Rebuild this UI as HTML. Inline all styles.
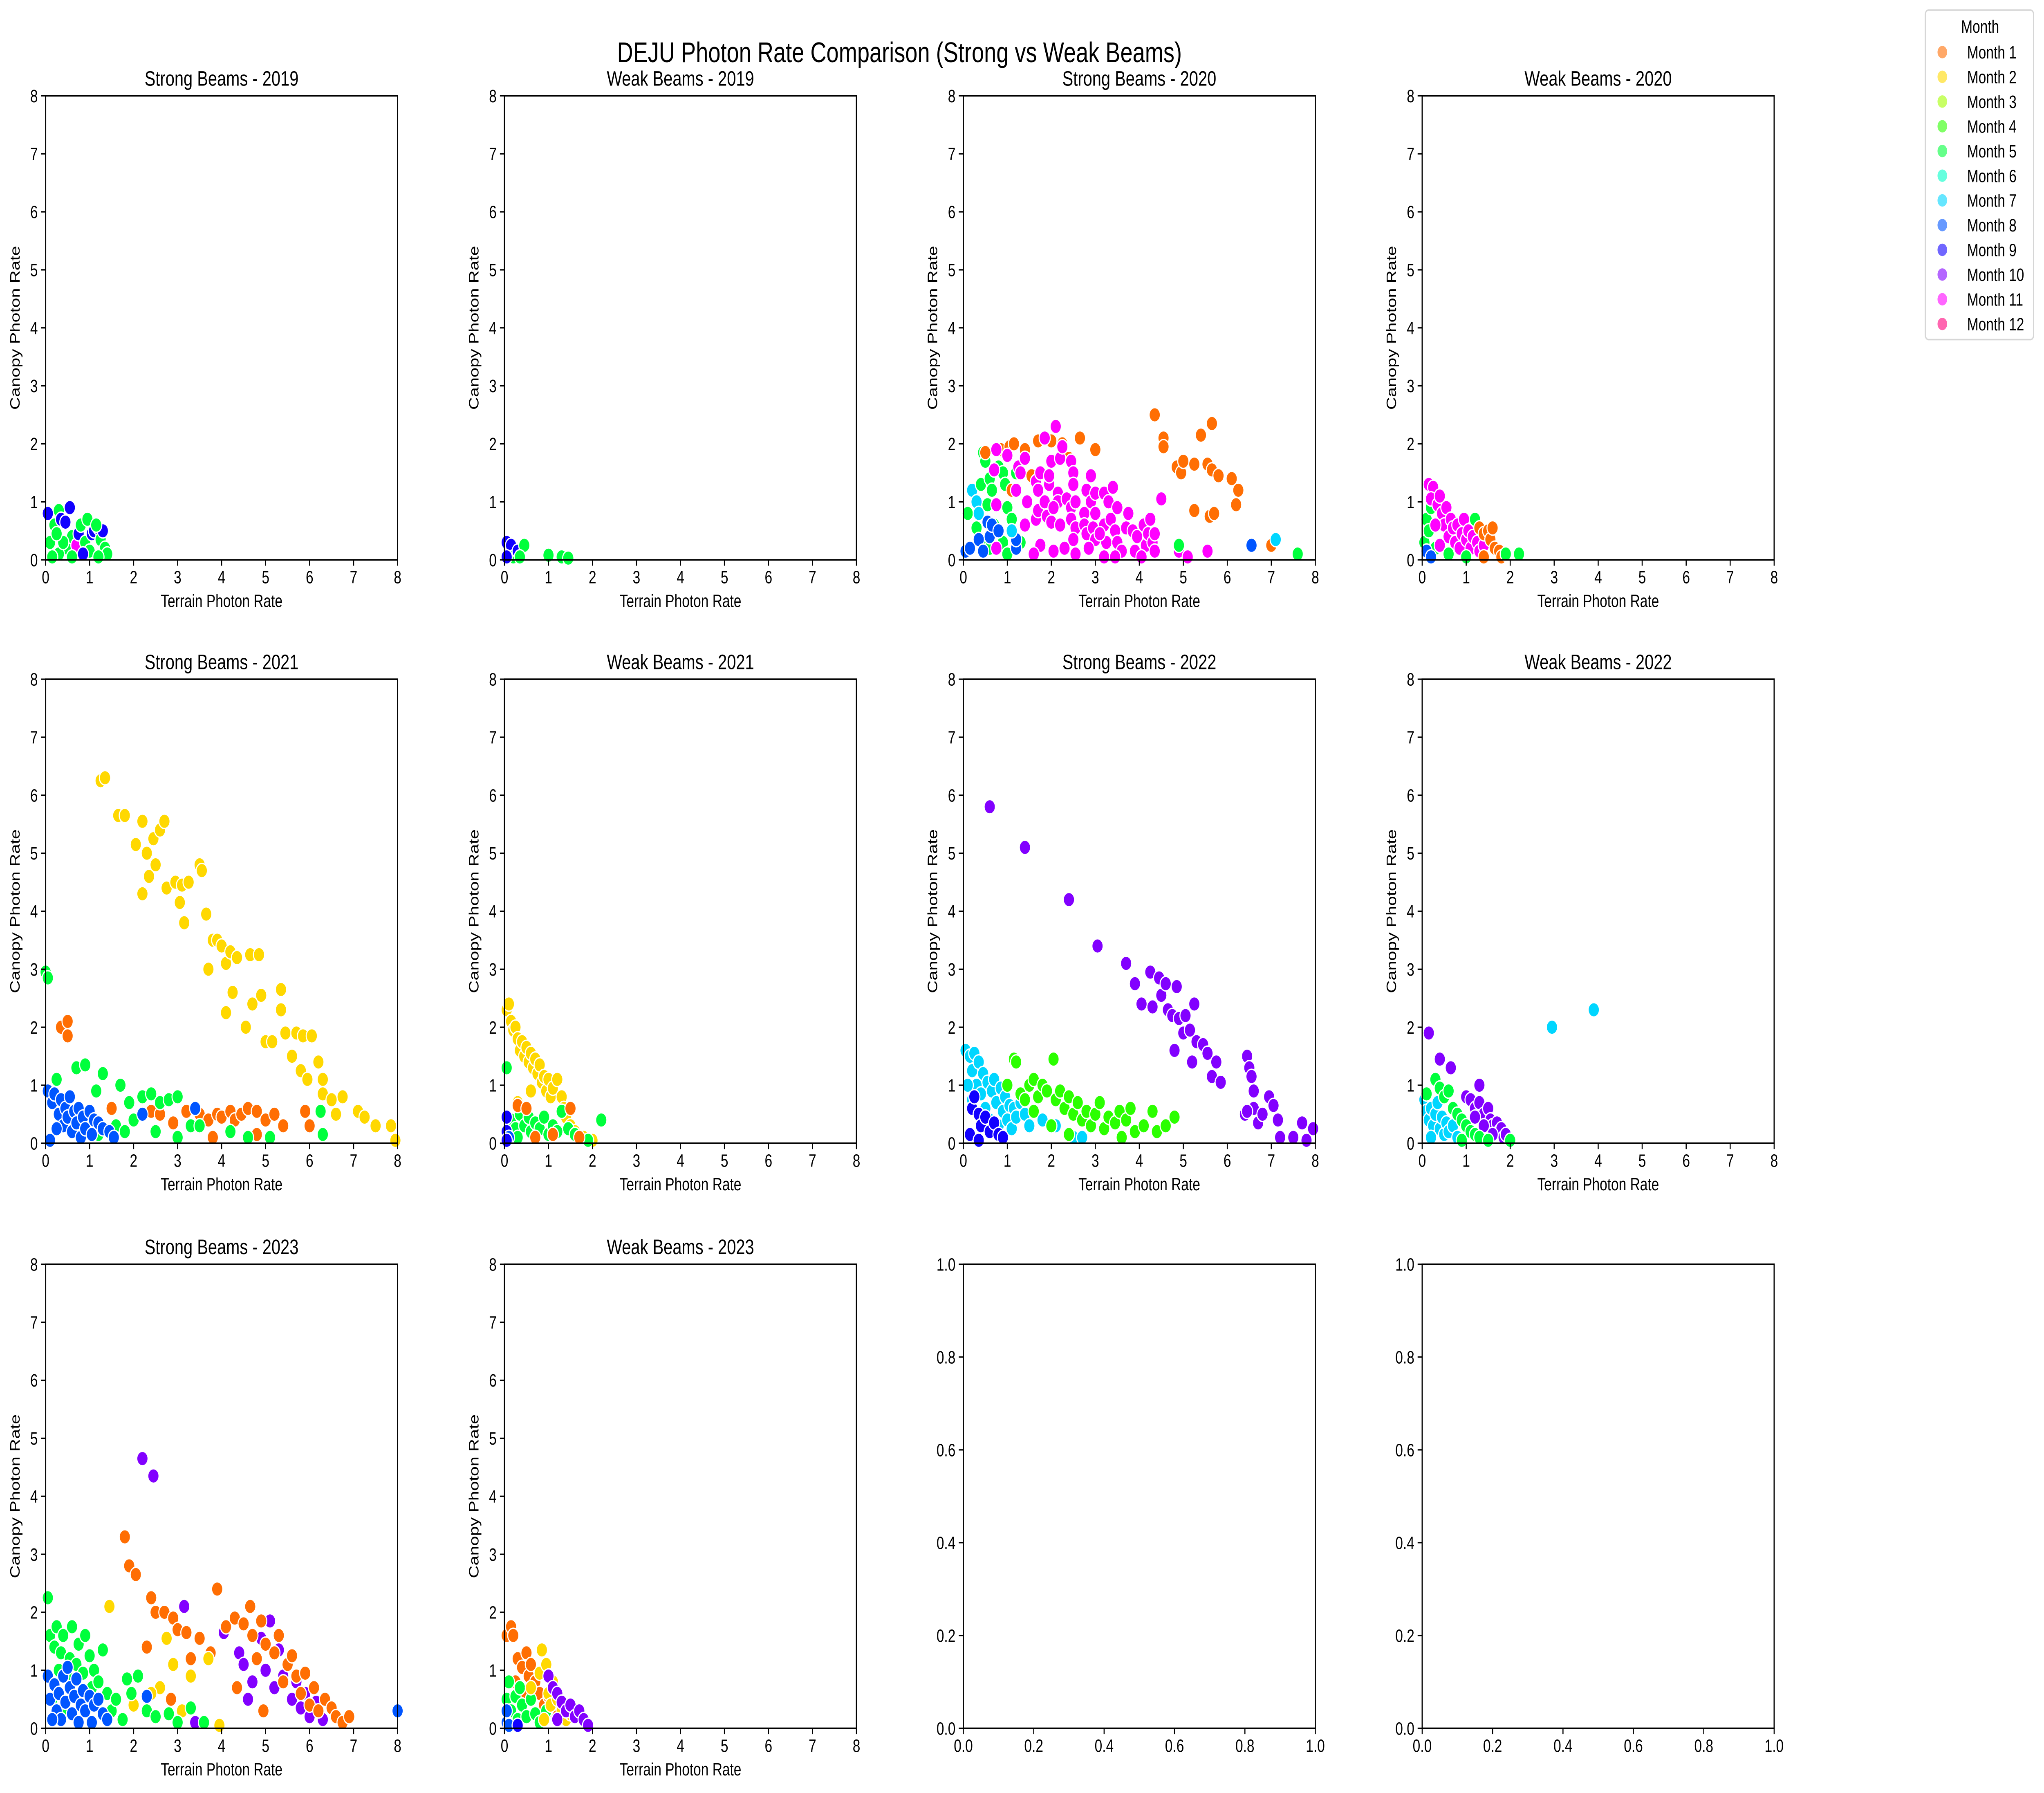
<!DOCTYPE html>
<html><head><meta charset="utf-8"><style>
html,body{margin:0;padding:0;background:#fff;width:100%;height:100%;overflow:hidden}
svg{display:block;width:100vw;height:100vh}
text{font-family:"Liberation Sans","DejaVu Sans",sans-serif;fill:#000}
</style></head><body>
<svg id="fig" xmlns="http://www.w3.org/2000/svg" viewBox="0 0 1568 1066.5" preserveAspectRatio="none">
<rect width="1568" height="1066.5" fill="#fff"/>
<text x="690" y="37" font-size="17" text-anchor="middle">DEJU Photon Rate Comparison (Strong vs Weak Beams)</text>
<g id="legend"></g>
</svg>
<script>
const monthColors=["#ff6e03","#ffd800","#a3ff00","#2bff00","#00ff3c","#00ffc8","#00d6ff","#0055ff","#1100ff","#8200ff","#ff00ff","#ff007c"];
const monthLabels=["Month 1","Month 2","Month 3","Month 4","Month 5","Month 6","Month 7","Month 8","Month 9","Month 10","Month 11","Month 12"];
const panelTitles=["Strong Beams - 2019","Weak Beams - 2019","Strong Beams - 2020","Weak Beams - 2020","Strong Beams - 2021","Weak Beams - 2021","Strong Beams - 2022","Weak Beams - 2022","Strong Beams - 2023","Weak Beams - 2023"];
const ticks8=[0,1,2,3,4,5,6,7,8];
const ticks1=["0.0","0.2","0.4","0.6","0.8","1.0"];
// points: [terrain, canopy, month]
const s2019=[[0.05,0.8,9],[0.1,0.3,5],[0.2,0.6,5],[0.3,0.85,5],[0.35,0.7,9],[0.45,0.65,9],[0.55,0.9,9],[0.5,0.2,5],[0.3,0.1,5],[0.6,0.4,5],[0.7,0.25,11],[0.75,0.45,9],[0.8,0.6,5],[0.9,0.3,5],[0.95,0.7,5],[1.0,0.15,5],[1.05,0.45,9],[1.1,0.5,9],[1.2,0.55,9],[1.25,0.35,5],[1.3,0.5,9],[1.35,0.2,5],[1.4,0.1,5],[1.2,0.05,5],[0.15,0.05,5],[0.6,0.05,5],[0.85,0.1,9],[0.4,0.3,5],[1.15,0.6,5],[0.25,0.45,5]];
const w2019=[[0.05,0.3,9],[0.1,0.1,11],[0.15,0.25,9],[0.2,0.05,5],[0.3,0.15,9],[0.45,0.25,5],[0.05,0.05,9],[1.0,0.08,5],[1.3,0.05,5],[1.45,0.03,5],[0.35,0.05,5]];
const s2020=[[0.1,0.8,5],[0.2,1.2,7],[0.3,1.0,7],[0.35,0.8,7],[0.4,1.3,5],[0.45,1.85,5],[0.5,1.7,5],[0.55,0.95,5],[0.6,1.4,5],[0.65,1.2,5],[0.7,0.6,5],[0.8,1.6,5],[0.9,1.5,5],[0.95,1.3,5],[1.0,0.9,5],[1.1,0.7,5],[1.2,1.5,5],[1.3,0.3,5],[0.3,0.55,5],[0.5,0.3,5],[0.6,0.2,5],[0.9,0.3,5],[1.0,0.1,5],
[0.05,0.15,8],[0.15,0.2,8],[0.35,0.35,8],[0.45,0.15,8],[0.55,0.65,8],[0.6,0.4,8],[0.65,0.6,8],[0.8,0.5,8],[1.2,0.2,8],[1.2,0.35,8],[1.1,0.5,7],
[0.5,1.85,1],[0.85,1.9,1],[1.05,1.95,1],[1.15,2.0,1],[1.4,1.9,1],[1.55,1.45,1],[1.7,2.05,1],[2.0,2.05,1],[2.25,2.0,1],[2.4,1.75,1],[2.65,2.1,1],[3.0,1.9,1],[1.1,1.2,1],[2.2,0.6,1],[4.35,2.5,1],[4.55,2.1,1],[4.55,1.95,1],[4.85,1.6,1],[4.95,1.5,1],[5.0,1.7,1],[5.25,1.65,1],[5.4,2.15,1],[5.55,1.65,1],[5.65,2.35,1],[5.65,1.55,1],[5.8,1.45,1],[6.1,1.4,1],[6.25,1.2,1],[6.2,0.95,1],[5.25,0.85,1],[5.6,0.75,1],[5.7,0.8,1],[7.0,0.25,1],
[0.75,1.9,11],[1.0,1.8,11],[0.7,1.55,11],[0.75,0.95,11],[1.2,1.2,11],[1.25,1.6,11],[1.3,1.5,11],[1.4,1.75,11],[1.45,1.0,11],[1.4,0.6,11],[1.65,1.35,11],[1.65,0.7,11],[1.7,1.2,11],[1.7,0.85,11],[1.75,1.5,11],[1.75,0.25,11],[1.85,2.1,11],[1.85,1.0,11],[1.9,0.75,11],[1.95,1.3,11],[1.95,1.45,11],[2.0,1.7,11],[2.0,0.65,11],[2.1,2.3,11],[2.15,1.15,11],[2.15,1.0,11],[2.2,0.6,11],[2.2,1.75,11],[2.25,1.95,11],[2.35,1.05,11],[2.45,1.7,11],[2.45,0.9,11],[2.45,0.7,11],[2.5,1.5,11],[2.5,1.3,11],[2.55,0.55,11],[2.55,1.0,11],[2.5,0.35,11],[2.75,0.8,11],[2.8,1.2,11],[2.75,0.6,11],[2.8,0.45,11],[2.9,1.45,11],[2.9,1.0,11],[2.95,0.55,11],[3.0,0.35,11],[3.0,0.8,11],[3.0,1.15,11],[3.2,1.15,11],[3.2,0.6,11],[3.25,0.3,11],[3.3,1.0,11],[3.35,0.7,11],[3.4,1.25,11],[3.45,0.5,11],[3.5,0.9,11],[3.5,0.3,11],[3.6,0.15,11],[3.7,0.55,11],[3.75,0.8,11],[3.85,0.5,11],[3.9,0.15,11],[3.95,0.4,11],[4.1,0.6,11],[4.15,0.25,11],[4.2,0.45,11],[4.25,0.7,11],[4.3,0.3,11],[4.35,0.45,11],[4.35,0.15,11],[4.5,1.05,11],[4.9,0.15,11],[5.1,0.05,11],[5.55,0.15,11],[1.6,0.1,11],[2.05,0.15,11],[2.3,0.2,11],[2.55,0.1,11],[2.85,0.2,11],[3.2,0.05,11],[3.45,0.05,11],[4.05,0.05,11],[0.75,0.2,11],[2.05,0.9,11],[3.1,0.45,11],
[4.9,0.25,5],[6.55,0.25,8],[7.1,0.35,7],[7.6,0.1,5]];
const w2020=[[0.05,0.3,5],[0.1,0.7,5],[0.15,0.5,5],[0.2,0.9,5],[0.3,0.2,5],[0.1,0.15,8],[0.2,0.05,8],[0.15,1.3,11],[0.25,1.25,11],[0.2,1.05,11],[0.35,0.95,11],[0.4,1.1,11],[0.45,0.8,11],[0.5,0.6,11],[0.55,0.9,11],[0.6,0.4,11],[0.65,0.7,11],[0.7,0.55,11],[0.75,0.3,11],[0.8,0.6,11],[0.85,0.2,11],[0.9,0.45,11],[0.95,0.7,11],[1.0,0.35,11],[1.05,0.5,11],[1.1,0.2,11],[1.15,0.4,11],[1.25,0.3,11],[1.3,0.15,11],[1.4,0.25,11],[0.4,0.25,11],[0.3,0.6,11],[1.2,0.7,5],[1.3,0.55,1],[1.4,0.45,1],[1.5,0.5,1],[1.55,0.35,1],[1.6,0.55,1],[1.65,0.2,1],[1.75,0.15,1],[1.8,0.05,1],[1.4,0.05,1],[1.9,0.1,5],[2.2,0.1,5],[0.6,0.1,5],[1.0,0.05,5]];
const s2021=[[1.25,6.25,2],[1.35,6.3,2],[1.65,5.65,2],[1.8,5.65,2],[2.05,5.15,2],[2.2,5.55,2],[2.3,5.0,2],[2.35,4.6,2],[2.45,5.25,2],[2.5,4.8,2],[2.6,5.4,2],[2.7,5.55,2],[2.2,4.3,2],[2.75,4.4,2],[2.95,4.5,2],[3.05,4.15,2],[3.1,4.45,2],[3.15,3.8,2],[3.25,4.5,2],[3.5,4.8,2],[3.55,4.7,2],[3.65,3.95,2],[3.8,3.5,2],[3.7,3.0,2],[3.9,3.5,2],[4.0,3.4,2],[4.1,3.1,2],[4.1,2.25,2],[4.2,3.3,2],[4.25,2.6,2],[4.35,3.2,2],[4.55,2.0,2],[4.65,3.25,2],[4.7,2.4,2],[4.85,3.25,2],[4.9,2.55,2],[5.0,1.75,2],[5.15,1.75,2],[5.35,2.65,2],[5.35,2.3,2],[5.45,1.9,2],[5.6,1.5,2],[5.7,1.9,2],[5.8,1.25,2],[5.85,1.85,2],[5.95,1.1,2],[6.05,1.85,2],[6.2,1.4,2],[6.3,1.1,2],[6.3,0.85,2],[6.5,0.75,2],[6.75,0.8,2],[7.1,0.55,2],[7.25,0.45,2],[7.5,0.3,2],[7.85,0.3,2],[7.95,0.05,2],[6.6,0.5,2],
[0.35,2.0,1],[0.5,2.1,1],[0.5,1.85,1],[1.05,0.4,1],[1.5,0.6,1],[2.4,0.55,1],[2.6,0.5,1],[2.9,0.35,1],[3.2,0.55,1],[3.5,0.5,1],[3.7,0.4,1],[3.9,0.5,1],[4.0,0.45,1],[4.2,0.55,1],[4.3,0.4,1],[4.45,0.5,1],[4.6,0.6,1],[4.8,0.55,1],[5.0,0.4,1],[5.2,0.5,1],[5.4,0.3,1],[5.9,0.55,1],[6.0,0.3,1],[3.8,0.1,1],[4.8,0.15,1],
[0.0,2.95,5],[0.05,2.85,5],[0.25,1.1,5],[0.7,1.3,5],[0.9,1.35,5],[1.3,1.2,5],[1.15,0.9,5],[1.7,1.0,5],[1.9,0.7,5],[2.2,0.8,5],[2.4,0.85,5],[2.6,0.7,5],[2.8,0.75,5],[3.0,0.8,5],[3.3,0.3,5],[1.6,0.3,5],[1.8,0.2,5],[2.0,0.4,5],[2.5,0.2,5],[3.0,0.1,5],[3.5,0.3,5],[4.2,0.2,5],[4.6,0.1,5],[5.1,0.1,5],[6.25,0.55,5],[6.3,0.15,5],[1.2,0.15,5],[0.9,0.5,5],
[0.05,0.9,8],[0.15,0.7,8],[0.2,0.85,8],[0.3,0.5,8],[0.35,0.75,8],[0.4,0.3,8],[0.45,0.6,8],[0.5,0.45,8],[0.55,0.8,8],[0.6,0.2,8],[0.65,0.55,8],[0.7,0.35,8],[0.75,0.6,8],[0.8,0.1,8],[0.85,0.45,8],[0.9,0.25,8],[1.0,0.55,8],[1.05,0.15,8],[1.1,0.4,8],[1.2,0.35,8],[1.3,0.25,8],[1.45,0.2,8],[1.55,0.1,8],[0.25,0.25,8],[2.2,0.5,8],[3.4,0.6,8],[0.1,0.05,8]];
const w2021=[[0.05,2.3,2],[0.1,2.4,2],[0.15,2.1,2],[0.2,1.95,2],[0.25,2.0,2],[0.3,1.8,2],[0.35,1.6,2],[0.4,1.75,2],[0.45,1.5,2],[0.5,1.65,2],[0.55,1.4,2],[0.6,1.55,2],[0.65,1.3,2],[0.7,1.45,2],[0.75,1.2,2],[0.8,1.35,2],[0.85,1.05,2],[0.9,1.15,2],[0.95,0.9,2],[1.0,1.1,2],[1.05,0.8,2],[1.1,0.95,2],[1.2,1.1,2],[1.3,0.8,2],[1.35,0.6,2],[1.4,0.45,2],[1.5,0.3,2],[1.6,0.2,2],[1.8,0.1,2],[2.0,0.05,2],[0.3,0.7,2],[0.6,0.9,2],
[0.05,1.3,5],[0.15,0.4,5],[0.25,0.25,5],[0.35,0.5,5],[0.45,0.3,5],[0.55,0.45,5],[0.6,0.2,5],[0.7,0.35,5],[0.8,0.25,5],[0.9,0.45,5],[1.0,0.15,5],[1.1,0.3,5],[1.2,0.2,5],[1.3,0.55,5],[1.45,0.25,5],[1.6,0.15,5],[2.2,0.4,5],[0.3,0.1,5],[1.9,0.05,5],
[0.3,0.65,1],[0.5,0.6,1],[0.7,0.1,1],[1.1,0.15,1],[1.5,0.6,1],[1.7,0.1,1],[0.05,0.45,9],[0.05,0.2,9],[0.1,0.1,8],[0.05,0.05,9]];
const s2022=[[0.6,5.8,10],[1.4,5.1,10],[2.4,4.2,10],[3.05,3.4,10],[3.7,3.1,10],[3.9,2.75,10],[4.05,2.4,10],[4.25,2.95,10],[4.3,2.35,10],[4.45,2.85,10],[4.5,2.55,10],[4.6,2.75,10],[4.65,2.3,10],[4.75,2.2,10],[4.85,2.7,10],[4.9,2.15,10],[5.0,1.9,10],[5.05,2.2,10],[5.15,1.95,10],[5.25,2.4,10],[5.2,1.4,10],[5.3,1.75,10],[5.45,1.7,10],[5.55,1.55,10],[5.65,1.15,10],[5.75,1.4,10],[5.85,1.05,10],[4.8,1.6,10],[6.45,1.5,10],[6.5,1.3,10],[6.4,0.5,10],[6.55,1.15,10],[6.6,0.9,10],[6.7,0.35,10],[6.6,0.6,10],[6.8,0.5,10],[6.95,0.8,10],[7.05,0.65,10],[7.15,0.4,10],[7.2,0.1,10],[7.5,0.1,10],[7.7,0.35,10],[7.8,0.05,10],[7.95,0.25,10],[6.45,0.55,10],
[0.05,1.6,7],[0.15,1.5,7],[0.2,1.25,7],[0.25,1.55,7],[0.3,1.0,7],[0.35,1.4,7],[0.4,0.85,7],[0.45,1.2,7],[0.5,0.6,7],[0.55,1.05,7],[0.6,0.4,7],[0.65,0.9,7],[0.7,1.1,7],[0.75,0.7,7],[0.8,0.3,7],[0.85,0.95,7],[0.9,0.55,7],[0.95,0.8,7],[1.0,0.4,7],[1.05,0.65,7],[1.1,0.25,7],[1.15,0.6,7],[1.2,0.45,7],[1.3,0.7,7],[1.4,0.5,7],[1.5,0.3,7],[0.2,0.75,7],[0.1,1.0,7],[1.8,0.4,7],[2.1,0.3,7],[2.5,0.1,7],[2.7,0.1,7],
[0.15,0.15,9],[0.2,0.6,9],[0.25,0.8,9],[0.35,0.5,9],[0.4,0.3,9],[0.5,0.45,9],[0.6,0.2,9],[0.7,0.35,9],[0.8,0.15,9],[0.9,0.1,9],[0.35,0.05,9],
[1.0,1.0,4],[1.15,1.45,4],[1.2,1.4,4],[1.3,0.85,4],[1.4,0.75,4],[1.5,1.0,4],[1.6,1.1,4],[1.7,0.8,4],[1.8,1.0,4],[1.9,0.9,4],[2.05,1.45,4],[2.1,0.75,4],[2.2,0.9,4],[2.3,0.6,4],[2.4,0.8,4],[2.5,0.5,4],[2.6,0.7,4],[2.7,0.4,4],[2.8,0.55,4],[2.9,0.3,4],[3.0,0.5,4],[3.1,0.7,4],[3.2,0.25,4],[3.3,0.45,4],[3.45,0.35,4],[3.55,0.55,4],[3.7,0.4,4],[3.8,0.6,4],[3.9,0.2,4],[4.1,0.3,4],[4.3,0.55,4],[4.4,0.2,4],[4.6,0.3,4],[4.8,0.45,4],[2.0,0.3,4],[1.6,0.55,4],[3.6,0.1,4],[2.4,0.15,4]];
const w2022=[[0.15,1.9,10],[0.4,1.45,10],[0.65,1.3,10],[1.3,1.0,10],[1.0,0.8,10],[1.1,0.75,10],[1.2,0.6,10],[1.3,0.7,10],[1.4,0.5,10],[1.5,0.6,10],[1.55,0.4,10],[1.6,0.3,10],[1.7,0.35,10],[1.75,0.2,10],[1.8,0.25,10],[1.85,0.1,10],[1.9,0.15,10],[1.4,0.3,10],[1.6,0.15,10],[1.2,0.45,10],
[0.05,0.75,7],[0.1,0.55,7],[0.15,0.4,7],[0.2,0.6,7],[0.25,0.3,7],[0.3,0.5,7],[0.35,0.7,7],[0.4,0.25,7],[0.45,0.45,7],[0.5,0.15,7],[0.55,0.35,7],[0.6,0.2,7],[0.7,0.3,7],[0.8,0.1,7],[0.2,0.1,7],[2.95,2.0,7],[3.9,2.3,7],
[0.1,0.85,5],[0.3,1.1,5],[0.4,0.95,5],[0.5,0.8,5],[0.6,0.9,5],[0.7,0.6,5],[0.8,0.5,5],[0.9,0.4,5],[1.0,0.3,5],[1.1,0.2,5],[1.2,0.15,5],[1.3,0.1,5],[1.5,0.05,5],[2.0,0.05,5],[0.9,0.05,5]];
const s2023=[[2.2,4.65,10],[2.45,4.35,10],[3.15,2.1,10],[4.05,1.65,10],[4.4,1.3,10],[4.5,1.1,10],[4.7,0.8,10],[4.9,1.55,10],[5.0,1.0,10],[5.1,1.85,10],[5.2,0.7,10],[5.3,1.35,10],[5.4,0.9,10],[5.5,1.1,10],[5.6,0.5,10],[5.7,0.8,10],[5.8,0.35,10],[5.9,0.6,10],[6.0,0.2,10],[6.15,0.45,10],[6.3,0.15,10],[4.6,0.5,10],[3.4,0.1,10],
[1.8,3.3,1],[1.9,2.8,1],[2.05,2.65,1],[2.4,2.25,1],[2.5,2.0,1],[2.7,2.0,1],[2.9,1.9,1],[3.0,1.7,1],[3.2,1.65,1],[3.5,1.55,1],[3.75,1.3,1],[3.9,2.4,1],[4.1,1.75,1],[4.3,1.9,1],[4.5,1.8,1],[4.65,2.1,1],[4.7,1.6,1],[4.8,1.2,1],[4.9,1.85,1],[5.0,1.45,1],[5.2,1.3,1],[5.3,1.6,1],[5.4,0.8,1],[5.5,1.1,1],[5.6,1.25,1],[5.7,0.9,1],[5.8,0.6,1],[5.9,0.95,1],[6.0,0.4,1],[6.1,0.7,1],[6.2,0.3,1],[6.35,0.5,1],[6.5,0.35,1],[6.6,0.2,1],[6.75,0.1,1],[6.9,0.2,1],[3.3,1.2,1],[2.85,0.5,1],[4.35,0.7,1],[4.95,0.3,1],[2.3,1.4,1],
[1.45,2.1,2],[2.6,0.7,2],[2.75,1.55,2],[2.9,1.1,2],[3.1,0.3,2],[3.3,0.9,2],[3.7,1.2,2],[3.95,0.05,2],[2.4,0.6,2],[2.0,0.4,2],
[0.05,2.25,5],[0.1,1.6,5],[0.2,1.4,5],[0.25,1.75,5],[0.3,1.0,5],[0.35,1.3,5],[0.4,1.6,5],[0.5,0.9,5],[0.55,1.2,5],[0.6,1.75,5],[0.7,1.1,5],[0.75,1.45,5],[0.85,0.95,5],[0.9,1.6,5],[1.0,1.25,5],[1.05,0.7,5],[1.1,1.0,5],[1.2,0.8,5],[1.3,1.35,5],[1.4,0.6,5],[1.5,0.3,5],[1.6,0.5,5],[1.75,0.15,5],[1.85,0.85,5],[1.95,0.6,5],[2.1,0.9,5],[2.3,0.3,5],[2.5,0.2,5],[2.8,0.25,5],[3.0,0.1,5],[3.3,0.35,5],[3.6,0.1,5],[0.15,0.5,5],[0.5,0.3,5],
[0.05,0.9,8],[0.1,0.5,8],[0.2,0.75,8],[0.25,0.3,8],[0.3,0.6,8],[0.35,0.15,8],[0.4,0.9,8],[0.45,0.45,8],[0.5,1.05,8],[0.55,0.7,8],[0.6,0.25,8],[0.65,0.55,8],[0.7,0.85,8],[0.75,0.1,8],[0.8,0.4,8],[0.85,0.65,8],[0.9,0.3,8],[1.0,0.55,8],[1.05,0.1,8],[1.1,0.4,8],[1.2,0.5,8],[1.3,0.25,8],[1.4,0.15,8],[0.15,0.15,8],[8.0,0.3,8],[2.3,0.55,8]];
const w2023=[[0.05,1.6,1],[0.15,1.75,1],[0.2,1.6,1],[0.3,1.2,1],[0.4,1.05,1],[0.5,1.3,1],[0.55,0.9,1],[0.6,1.1,1],[0.7,0.8,1],[0.8,0.6,1],[0.9,0.4,1],[1.0,0.55,1],[1.1,0.3,1],[1.2,0.2,1],[0.45,0.6,1],[0.25,0.8,1],
[0.05,0.5,5],[0.1,0.8,5],[0.15,0.3,5],[0.25,0.55,5],[0.3,0.15,5],[0.4,0.4,5],[0.5,0.2,5],[0.6,0.5,5],[0.7,0.25,5],[0.8,0.1,5],[0.95,0.3,5],[0.35,0.7,5],
[0.6,0.7,2],[0.8,0.95,2],[0.85,1.35,2],[0.95,1.1,2],[1.0,0.6,2],[1.05,0.4,2],[1.1,0.8,2],[1.2,0.5,2],[1.3,0.3,2],[1.4,0.15,2],[1.5,0.25,2],[0.9,0.15,2],
[1.0,0.9,10],[1.1,0.7,10],[1.2,0.6,10],[1.3,0.45,10],[1.4,0.3,10],[1.5,0.4,10],[1.6,0.2,10],[1.7,0.3,10],[1.8,0.15,10],[1.9,0.05,10],[1.2,0.15,10],
[0.05,0.1,8],[0.05,0.3,8],[0.1,0.05,8],[0.3,0.05,9]];
const panelData=[s2019,w2019,s2020,w2020,s2021,w2021,s2022,w2022,s2023,w2023];

const NS="http://www.w3.org/2000/svg";
const svg=document.getElementById('fig');
const colL=[35,387,739,1091], rowT=[57,404,752], AW=270, AH=276;
function mk(tag,attrs,parent){const e=document.createElementNS(NS,tag);for(const k in attrs)e.setAttribute(k,attrs[k]);parent.appendChild(e);return e;}
function xScale(v,x0,max){return x0+v/max*AW;}
function yScale(v,y0,max){return y0+AH-v/max*AH;}

for(let p=0;p<12;p++){
  const x0=colL[p%4], y0=rowT[Math.floor(p/4)];
  const g=mk('g',{},svg);
  
  
  const empty=p>=10, max=empty?1:8;
  const tickVals=empty?[0,0.2,0.4,0.6,0.8,1.0]:ticks8;
  const tickTxt=empty?ticks1:ticks8.map(String);
  if(!empty){
    const pts=panelData[p];
    for(const d of pts){
      const c=mk('circle',{cx:xScale(d[0],x0,max),cy:yScale(d[1],y0,max),r:4.3,fill:monthColors[d[2]-1],stroke:'#fff','stroke-width':0.8},g);
      
      
    }
  }
  const fr=mk('rect',{x:x0,y:y0,width:AW,height:AH,fill:'none',stroke:'#000','stroke-width':0.9},g);
  
  
  for(let i=0;i<tickVals.length;i++){
    const tx=xScale(tickVals[i],x0,max), ty=yScale(tickVals[i],y0,max);
    mk('line',{x1:tx,y1:y0+AH,x2:tx,y2:y0+AH+3.5,stroke:'#000','stroke-width':0.8},g);
    const xt=mk('text',{x:tx,y:y0+AH+14,'font-size':10.5,'text-anchor':'middle'},g);
    xt.textContent=tickTxt[i];
    
    
    mk('line',{x1:x0,y1:ty,x2:x0-3.5,y2:ty,stroke:'#000','stroke-width':0.8},g);
    const yt=mk('text',{x:x0-6,y:ty+3.8,'font-size':10.5,'text-anchor':'end'},g);
    yt.textContent=tickTxt[i];
    
    
  }
  if(!empty){
    const t=mk('text',{x:x0+AW/2,y:y0-6,'font-size':12.5,'text-anchor':'middle'},g);
    t.textContent=panelTitles[p];
    
    
    const xl=mk('text',{x:x0+AW/2,y:y0+AH+28,'font-size':10.5,'text-anchor':'middle'},g);
    xl.textContent='Terrain Photon Rate';
    
    
    const yl=mk('text',{x:0,y:0,'font-size':10.5,'text-anchor':'middle',transform:'translate('+(x0-20)+','+(y0+AH/2)+') rotate(-90)'},g);
    yl.textContent='Canopy Photon Rate';
    
    
  }
}
const lg=document.getElementById('legend');
mk('rect',{x:1477,y:6,width:83,height:196,rx:2.5,fill:'#fff',stroke:'#d6d6d6','stroke-width':0.9},lg);
const lt=mk('text',{x:1519,y:19.5,'font-size':10.5,'text-anchor':'middle'},lg);
lt.textContent='Month';


for(let i=0;i<12;i++){
  const y=31+14.7*i;
  const e=mk('g',{},lg);
  
  
  mk('circle',{cx:1490,cy:y,r:4,fill:monthColors[i],'fill-opacity':0.6,stroke:'#fff','stroke-width':0.6},e);
  const t=mk('text',{x:1509,y:y+3.8,'font-size':10.5},e);
  t.textContent=monthLabels[i];
}
</script>
</body></html>
